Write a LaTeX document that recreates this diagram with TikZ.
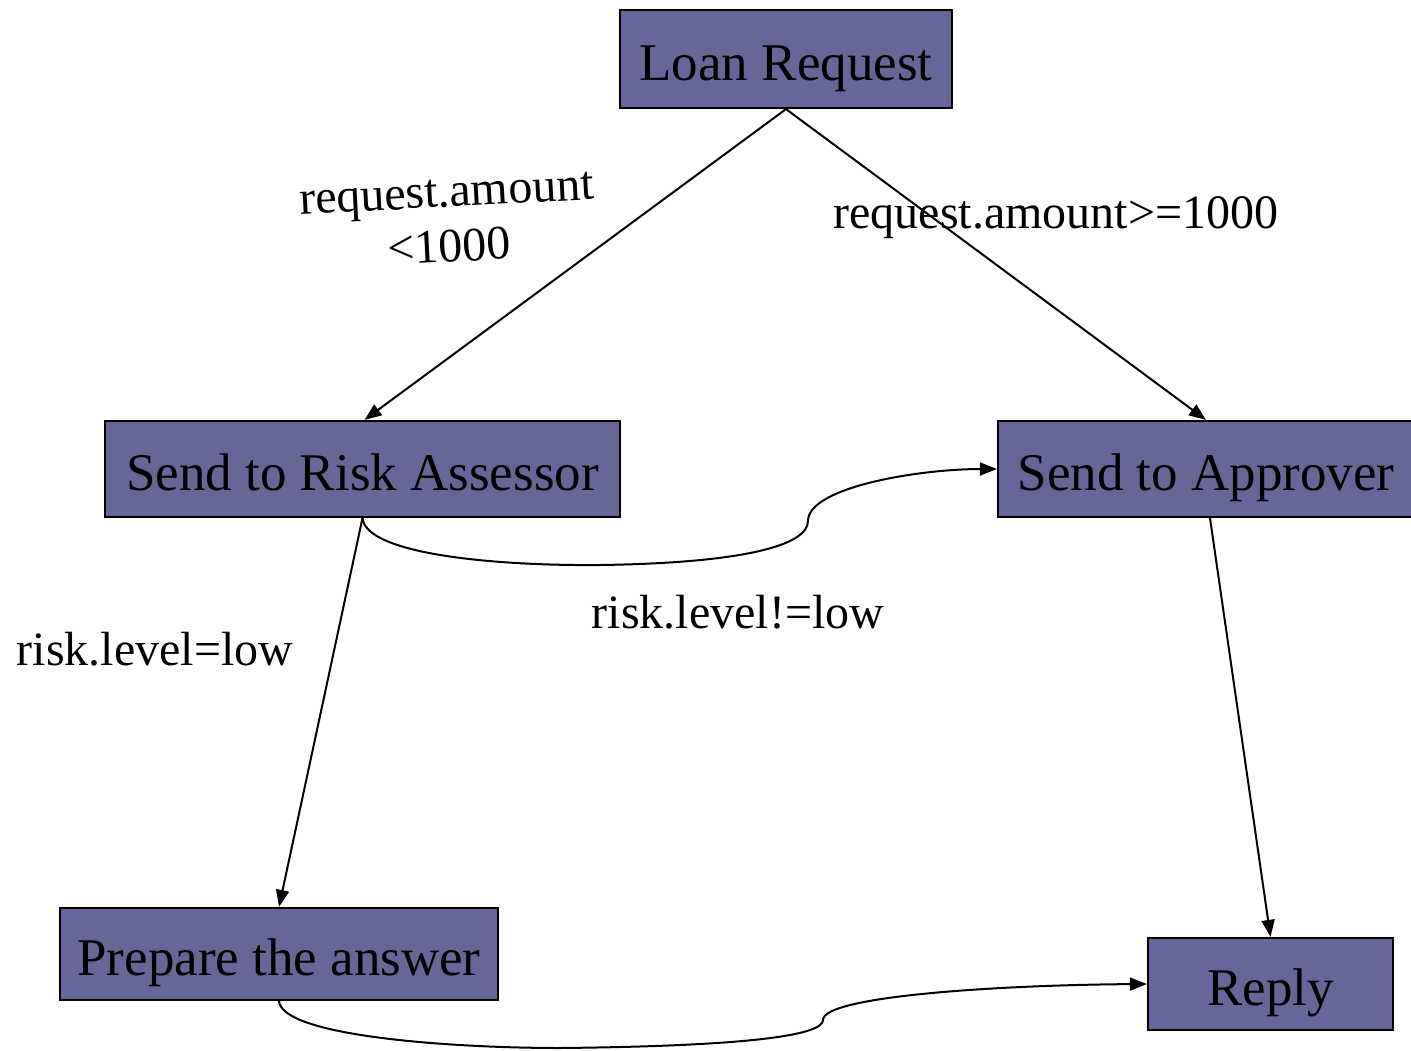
\documentclass[tikz,border=0pt]{standalone}
\usepackage{fontspec}
\setmainfont{Liberation Serif}
\usetikzlibrary{shapes, arrows.meta}
\definecolor{boxblue}{HTML}{666699}
\tikzstyle{stepbox} = [rectangle, draw=black, line width=2.2pt, fill=boxblue, text centered, inner sep=0pt, text height=42pt, text depth=0pt, font=\fontsize{53}{60}\selectfont]
\tikzstyle{cond} = [inner sep=0pt, align=center, font=\fontsize{48}{55}\selectfont]
\tikzstyle{arrow} = [line width=2pt, -{Triangle[length=17pt, width=13pt]}]

\begin{document}
\begin{tikzpicture}[x=1pt, y=-1pt]
\useasboundingbox (0,0) rectangle (1411,1050);

\node (loan) [stepbox, minimum width=332, minimum height=98] at (786,59) {Loan Request};
\node (risk) [stepbox, minimum width=515, minimum height=96] at (362.5,469) {Send to Risk Assessor};
\node (appr) [stepbox, minimum width=416, minimum height=96] at (1206,469) {Send to Approver};
\node (prep) [stepbox, minimum width=438, minimum height=92] at (279,954) {Prepare the answer};
\node (reply) [stepbox, minimum width=245, minimum height=92] at (1270.5,984) {Reply};

\node (lowamt) [cond, rotate=3] at (448,221) {request.amount\\<1000};
\node (highamt) [cond] at (1056,218) {request.amount>=1000};
\node (nolow) [cond] at (738,612) {risk.level!=low};
\node (islow) [cond] at (155,649) {risk.level=low};

\draw [arrow] (loan.south) -- ([xshift=2]risk.north);
\draw [arrow] (loan.south) -- (appr.north);
\draw [arrow] (risk.south) -- (prep.north);
\draw [arrow] ([xshift=4]appr.south) -- (reply.north);
\draw [arrow] (risk.south) .. controls (366,555) and (500,566) .. (600,565) .. controls (745,563) and (808,545) .. (808,521) .. controls (808,487) and (920,469) .. (appr.west);
\draw [arrow] (prep.south) .. controls (282,1036) and (450,1048) .. (560,1048) .. controls (760,1046) and (823,1034) .. (823,1020) .. controls (823,996) and (1000,985) .. (reply.west);

\end{tikzpicture}
\end{document}
